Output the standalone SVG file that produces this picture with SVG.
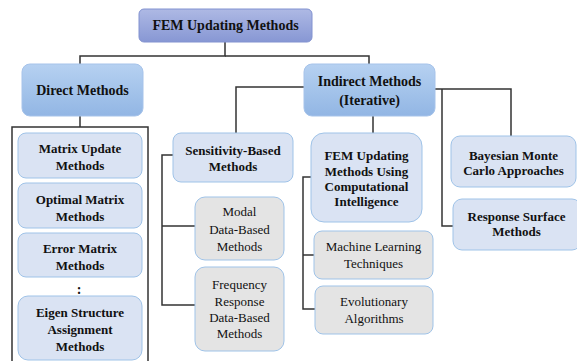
<svg xmlns="http://www.w3.org/2000/svg" width="577" height="361" viewBox="0 0 577 361">
<defs>
<linearGradient id="gTop" x1="0" y1="0" x2="0" y2="1"><stop offset="0" stop-color="#aeb9e4"/><stop offset="1" stop-color="#8797d4"/></linearGradient>
<linearGradient id="gMain" x1="0" y1="0" x2="0" y2="1"><stop offset="0" stop-color="#b6d1f1"/><stop offset="1" stop-color="#92b6e4"/></linearGradient>
</defs>
<style>
text{text-anchor:middle;fill:#111}
.b{font-weight:bold}
.top{fill:url(#gTop);stroke:#8292d0;stroke-width:1}
.main{fill:url(#gMain);stroke:#a6c3ea;stroke-width:1}
.lb{fill:#dae3f3;stroke:#9fc3e8;stroke-width:1}
.gr{fill:#e4e4e4;stroke:#9fc3e8;stroke-width:1}
.ln{fill:none;stroke:#333;stroke-width:1.5}
</style>
<g id="connectors">
<polyline class="ln" points="225,42 225,56 80,56 80,64"/>
<polyline class="ln" points="225,56 369,56 369,64"/>
<line class="ln" x1="80" y1="116" x2="80" y2="127"/>
<rect class="ln" x="12" y="127" width="136" height="240"/>
<polyline class="ln" points="304,87 236,87 236,133"/>
<line class="ln" x1="373" y1="116" x2="373" y2="133"/>
<polyline class="ln" points="435,89 511,89 511,136"/>
<polyline class="ln" points="442,89 442,226 453,226"/>
<polyline class="ln" points="173,155 162,155 162,305 195,305"/>
<line class="ln" x1="162" y1="226" x2="195" y2="226"/>
<polyline class="ln" points="311,177 303,177 303,309 315,309"/>
<line class="ln" x1="303" y1="255" x2="314" y2="255"/>
</g>
<g id="n-fem" font-family="Liberation Serif" font-size="14">
<rect class="top" x="139" y="9" width="173" height="33" rx="5"/>
<text class="b" x="225.5" y="30">FEM Updating Methods</text>
</g>
<g id="n-direct" font-family="Liberation Serif" font-size="14">
<rect class="main" x="22" y="64" width="121" height="52" rx="8"/>
<text class="b" x="82.5" y="95">Direct Methods</text>
</g>
<g id="n-indirect" font-family="Liberation Serif" font-size="14">
<rect class="main" x="304" y="64" width="131" height="52" rx="8"/>
<text class="b" x="369.5" y="86">Indirect Methods</text>
<text class="b" x="369.5" y="105">(Iterative)</text>
</g>
<g id="n-matrix-update" font-family="Liberation Serif" font-size="13">
<rect class="lb" x="18" y="133" width="124" height="45" rx="8"/>
<text class="b" x="80" y="153">Matrix Update</text>
<text class="b" x="80" y="170">Methods</text>
</g>
<g id="n-optimal" font-family="Liberation Serif" font-size="13">
<rect class="lb" x="18" y="183" width="124" height="45" rx="8"/>
<text class="b" x="80" y="203.5">Optimal Matrix</text>
<text class="b" x="80" y="220.5">Methods</text>
</g>
<g id="n-error" font-family="Liberation Serif" font-size="13">
<rect class="lb" x="18" y="233" width="124" height="44" rx="8"/>
<text class="b" x="80" y="252.5">Error Matrix</text>
<text class="b" x="80" y="270">Methods</text>
</g>
<g id="n-dots" font-family="Liberation Serif" font-size="14">
<text class="b" x="79" y="294">:</text>
</g>
<g id="n-eigen" font-family="Liberation Serif" font-size="13">
<rect class="lb" x="18" y="296" width="124" height="64" rx="10"/>
<text class="b" x="80" y="317">Eigen Structure</text>
<text class="b" x="80" y="334">Assignment</text>
<text class="b" x="80" y="350.5">Methods</text>
</g>
<g id="n-sensitivity" font-family="Liberation Serif" font-size="13">
<rect class="lb" x="173" y="133" width="120" height="49" rx="8"/>
<text class="b" x="233" y="155">Sensitivity-Based</text>
<text class="b" x="233" y="170.5">Methods</text>
</g>
<g id="n-modal" font-family="Liberation Serif" font-size="13">
<rect class="gr" x="195" y="197" width="89" height="63" rx="10"/>
<text x="239.5" y="216">Modal</text>
<text x="239.5" y="233.5">Data-Based</text>
<text x="239.5" y="250.5">Methods</text>
</g>
<g id="n-frequency" font-family="Liberation Serif" font-size="13">
<rect class="gr" x="195" y="267" width="89" height="84" rx="10"/>
<text x="239.5" y="288.5">Frequency</text>
<text x="239.5" y="305.5">Response</text>
<text x="239.5" y="321.5">Data-Based</text>
<text x="239.5" y="337.5">Methods</text>
</g>
<g id="n-ci" font-family="Liberation Serif" font-size="13">
<rect class="lb" x="311" y="133" width="111" height="89" rx="13"/>
<text class="b" x="366.5" y="159.5">FEM Updating</text>
<text class="b" x="366.5" y="175.5">Methods Using</text>
<text class="b" x="366.5" y="190.5">Computational</text>
<text class="b" x="366.5" y="206">Intelligence</text>
</g>
<g id="n-ml" font-family="Liberation Serif" font-size="13">
<rect class="gr" x="314" y="231" width="119" height="48" rx="8"/>
<text x="373.5" y="251">Machine Learning</text>
<text x="373.5" y="267.5">Techniques</text>
</g>
<g id="n-evo" font-family="Liberation Serif" font-size="13">
<rect class="gr" x="315" y="286" width="118" height="48" rx="8"/>
<text x="374" y="306">Evolutionary</text>
<text x="374" y="322.5">Algorithms</text>
</g>
<g id="n-bayes" font-family="Liberation Serif" font-size="13">
<rect class="lb" x="451" y="136" width="125" height="51" rx="9"/>
<text class="b" x="513.5" y="159.5">Bayesian Monte</text>
<text class="b" x="513.5" y="174.5">Carlo Approaches</text>
</g>
<g id="n-rsm" font-family="Liberation Serif" font-size="13">
<rect class="lb" x="453" y="199" width="128" height="51" rx="9"/>
<text class="b" x="516.5" y="220.5">Response Surface</text>
<text class="b" x="516.5" y="236">Methods</text>
</g>
</svg>
